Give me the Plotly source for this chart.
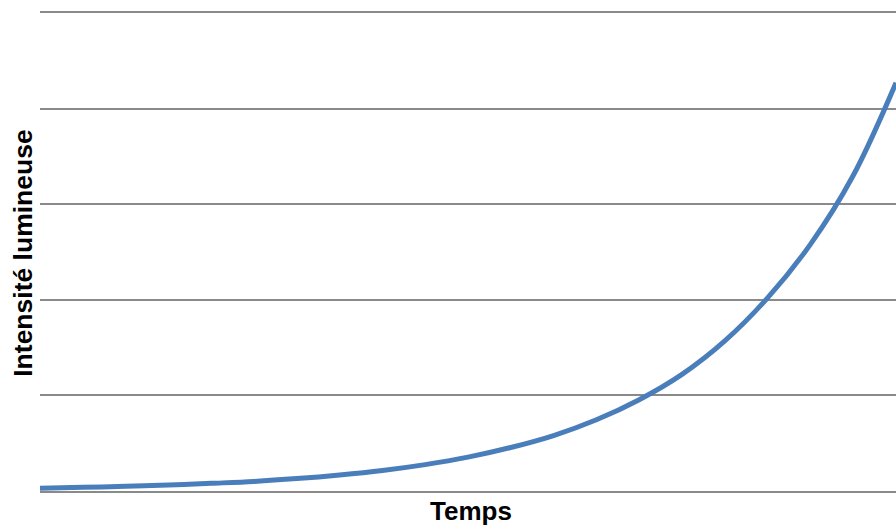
import plotly.graph_objects as go

# Data
temps = [0, 0.5, 1, 1.5, 2, 2.5, 3, 3.5, 4, 4.5, 5, 5.5, 6, 6.5, 7, 7.5, 8, 8.5, 9, 9.5, 10]
intensite = [0.03, 0.038, 0.049, 0.062, 0.08, 0.10, 0.13, 0.168, 0.215, 0.276, 0.354,
             0.455, 0.58, 0.745, 0.955, 1.22, 1.57, 2.02, 2.58, 3.3, 4.27]
y_ticks = [0, 1, 2, 3, 4, 5]

fig = go.Figure()
fig.add_trace(go.Scatter(
    x=temps, y=intensite, mode="lines",
    line=dict(color="#4a7ebb", width=5, shape="spline", smoothing=1.0),
    showlegend=False,
))

grid_col = "#8a8a8a"
fig.update_layout(
    width=896, height=526,
    margin=dict(l=40, r=0, t=13, b=35),
    paper_bgcolor="white", plot_bgcolor="white",
    font=dict(family="Liberation Sans, Arial, sans-serif", color="black"),
    xaxis=dict(range=[0, 10], showgrid=False, zeroline=False,
               showline=True, mirror=True, linecolor=grid_col, linewidth=1.5,
               showticklabels=False, ticks=""),
    yaxis=dict(range=[0, 5], tickvals=y_ticks, showgrid=True, gridcolor=grid_col,
               gridwidth=1.5, zeroline=False, showline=False, showticklabels=False, ticks=""),
    annotations=[
        dict(text="<b>Temps</b>", xref="paper", yref="paper", x=0.504, y=-0.041,
             xanchor="center", yanchor="middle", showarrow=False,
             font=dict(size=26, family="Liberation Sans, Arial, sans-serif")),
        dict(text="<b>Intensité lumineuse</b>", xref="paper", yref="paper", x=-0.0195, y=0.497,
             xanchor="center", yanchor="middle", textangle=-90, showarrow=False,
             font=dict(size=26.5, family="Liberation Sans, Arial, sans-serif")),
    ],
)

fig.write_html("out.html", config={"displayModeBar": False},
               post_script="document.body.style.margin='0';")
